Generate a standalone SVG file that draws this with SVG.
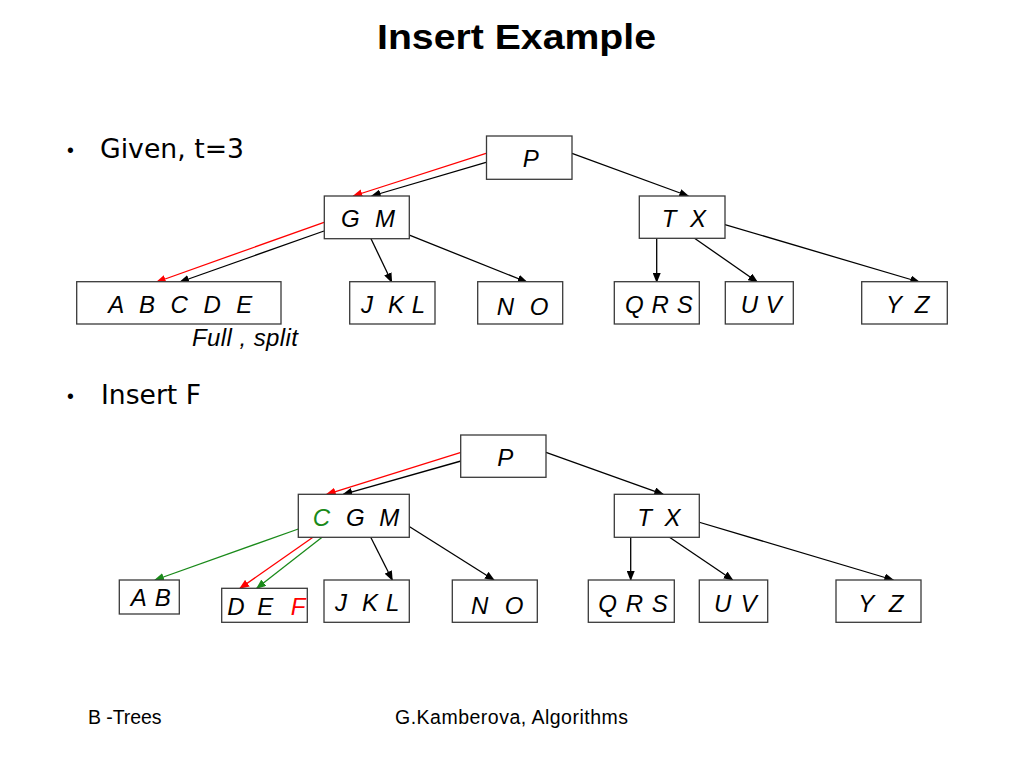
<svg xmlns="http://www.w3.org/2000/svg" width="1024" height="768" viewBox="0 0 1024 768">
<style>
  .box { fill: #ffffff; stroke: #3a3a3a; stroke-width: 1.3; }
  .lbl { font-family: "Liberation Sans", Arial, sans-serif; font-style: italic; font-size: 24px; fill: #000; white-space: pre; }
  .bul { font-family: "DejaVu Sans", "Open Sans", sans-serif; font-size: 26px; fill: #000; }
  .foot { font-family: "Liberation Sans", Arial, sans-serif; font-size: 19.5px; fill: #000; }
  .ek { stroke: #000; stroke-width: 1.3; fill: none; marker-end: url(#ak); }
  .er { stroke: #ff0000; stroke-width: 1.3; fill: none; marker-end: url(#ar); }
  .eg { stroke: #1a8a1a; stroke-width: 1.3; fill: none; marker-end: url(#ag); }
</style>
<defs>
  <marker id="ak" markerUnits="userSpaceOnUse" markerWidth="10" markerHeight="8" refX="9" refY="4" orient="auto"><path d="M0,0 L10,4 L0,8 z" fill="#000"/></marker>
  <marker id="ar" markerUnits="userSpaceOnUse" markerWidth="10" markerHeight="8" refX="9" refY="4" orient="auto"><path d="M0,0 L10,4 L0,8 z" fill="#ff0000"/></marker>
  <marker id="ag" markerUnits="userSpaceOnUse" markerWidth="10" markerHeight="8" refX="9" refY="4" orient="auto"><path d="M0,0 L10,4 L0,8 z" fill="#1a8a1a"/></marker>
</defs>
<rect x="0" y="0" width="1024" height="768" fill="#ffffff"/>

<text x="377" y="48.5" font-family="'Liberation Sans', Arial, sans-serif" font-weight="bold" font-size="35" textLength="279" lengthAdjust="spacingAndGlyphs">Insert Example</text>

<g id="bullets">
  <text x="70.5" y="157" class="foot" font-size="20" text-anchor="middle">•</text>
  <text x="100" y="157.5" class="bul" textLength="144" lengthAdjust="spacingAndGlyphs">Given, t=3</text>
  <text x="70.5" y="403" class="foot" font-size="20" text-anchor="middle">•</text>
  <text x="101" y="403.5" class="bul" textLength="100" lengthAdjust="spacingAndGlyphs">Insert F</text>
</g>

<g id="connectors">
  <!-- top tree -->
  <line class="er" x1="486" y1="153.3" x2="353.3" y2="196"/>
  <line class="ek" x1="486" y1="162.3" x2="371.7" y2="196"/>
  <line class="ek" x1="572" y1="153.3" x2="688.3" y2="196"/>
  <line class="er" x1="324" y1="222.3" x2="156.7" y2="282"/>
  <line class="ek" x1="324" y1="231" x2="180" y2="282"/>
  <line class="ek" x1="367.3" y1="231" x2="391.7" y2="282"/>
  <line class="ek" x1="400.7" y1="231.7" x2="526.7" y2="282"/>
  <line class="ek" x1="656.7" y1="230" x2="656.7" y2="282"/>
  <line class="ek" x1="682.7" y1="230" x2="757.3" y2="282"/>
  <line class="ek" x1="717.3" y1="222.3" x2="919.3" y2="282"/>
  <!-- bottom tree -->
  <line class="er" x1="461" y1="452.3" x2="326.7" y2="494.3"/>
  <line class="ek" x1="461" y1="461" x2="343.3" y2="494.3"/>
  <line class="ek" x1="546" y1="452.3" x2="663.3" y2="494.3"/>
  <line class="eg" x1="298.3" y1="529" x2="155" y2="580"/>
  <line class="er" x1="323.3" y1="530" x2="240" y2="588.3"/>
  <line class="eg" x1="332.3" y1="529.3" x2="256.7" y2="588.3"/>
  <line class="ek" x1="366.7" y1="529.3" x2="392.3" y2="580"/>
  <line class="ek" x1="401.7" y1="521.7" x2="494" y2="580"/>
  <line class="ek" x1="630.7" y1="529.3" x2="630.7" y2="580"/>
  <line class="ek" x1="657.3" y1="529" x2="732.7" y2="580"/>
  <line class="ek" x1="691.7" y1="520" x2="893.3" y2="580"/>
</g>

<!-- top tree nodes -->
<g id="t-P"><rect class="box" x="486.5" y="136" width="85.5" height="43.3"/><text class="lbl" x="522.7" y="167">P</text></g>
<g id="t-GM"><rect class="box" x="324.3" y="196" width="85" height="42.7"/><text class="lbl" x="341" y="227" textLength="54">G  M</text></g>
<g id="t-TX"><rect class="box" x="639.3" y="196" width="85.7" height="42.3"/><text class="lbl" x="661.7" y="227" textLength="44.3">T  X</text></g>
<g id="t-ABCDE"><rect class="box" x="76.7" y="281.7" width="204.3" height="42.3"/><text class="lbl" x="108.3" y="313" textLength="144">A  B  C  D  E</text></g>
<g id="t-JKL"><rect class="box" x="349.7" y="281.7" width="85.3" height="42.3"/><text class="lbl" x="361" y="313" textLength="64">J  K L</text></g>
<g id="t-NO"><rect class="box" x="477.7" y="281.7" width="85" height="42.3"/><text class="lbl" x="496.7" y="315" textLength="51.6">N  O</text></g>
<g id="t-QRS"><rect class="box" x="614.3" y="281.7" width="85" height="42.3"/><text class="lbl" x="625" y="313" textLength="67.7">Q R S</text></g>
<g id="t-UV"><rect class="box" x="725.3" y="281.7" width="68" height="42.3"/><text class="lbl" x="740.7" y="313" textLength="41">U V</text></g>
<g id="t-YZ"><rect class="box" x="861.7" y="281.7" width="85.6" height="42.3"/><text class="lbl" x="886" y="313" textLength="43.3">Y  Z</text></g>
<text class="lbl" x="192" y="345.5" textLength="106">Full , split</text>

<!-- bottom tree nodes -->
<g id="b-P"><rect class="box" x="460.7" y="435" width="85.3" height="42.3"/><text class="lbl" x="497.3" y="466">P</text></g>
<g id="b-CGM"><rect class="box" x="298.3" y="494.3" width="111" height="43"/><text class="lbl" x="312.7" y="526" fill="#1a8a1a" style="fill:#1a8a1a">C</text><text class="lbl" x="346" y="526" textLength="53.3">G  M</text></g>
<g id="b-TX"><rect class="box" x="614.3" y="494.3" width="85" height="43"/><text class="lbl" x="637.3" y="526" textLength="43.3">T  X</text></g>
<g id="b-AB"><rect class="box" x="119.3" y="580" width="60" height="34"/><text class="lbl" x="130.7" y="606" textLength="40">A B</text></g>
<g id="b-DEF"><rect class="box" x="221.7" y="588.3" width="85.6" height="34"/><text class="lbl" x="227.3" y="615" textLength="46">D  E</text><text class="lbl" x="290.7" y="615" style="fill:#ff0000">F</text></g>
<g id="b-JKL"><rect class="box" x="324" y="580" width="85.3" height="42.3"/><text class="lbl" x="335" y="611" textLength="64.3">J  K L</text></g>
<g id="b-NO"><rect class="box" x="452.3" y="580" width="85" height="42.3"/><text class="lbl" x="471" y="614" textLength="52.3">N  O</text></g>
<g id="b-QRS"><rect class="box" x="588.3" y="580" width="86" height="42.3"/><text class="lbl" x="598.3" y="612" textLength="69.4">Q R S</text></g>
<g id="b-UV"><rect class="box" x="699.3" y="580" width="68.4" height="42.3"/><text class="lbl" x="714" y="612" textLength="42.7">U V</text></g>
<g id="b-YZ"><rect class="box" x="836" y="580" width="85" height="42.3"/><text class="lbl" x="858.3" y="612" textLength="45">Y  Z</text></g>

<g id="footer">
  <text class="foot" x="88" y="724" textLength="73.5">B -Trees</text>
  <text class="foot" x="395" y="724" textLength="233">G.Kamberova, Algorithms</text>
</g>
</svg>
